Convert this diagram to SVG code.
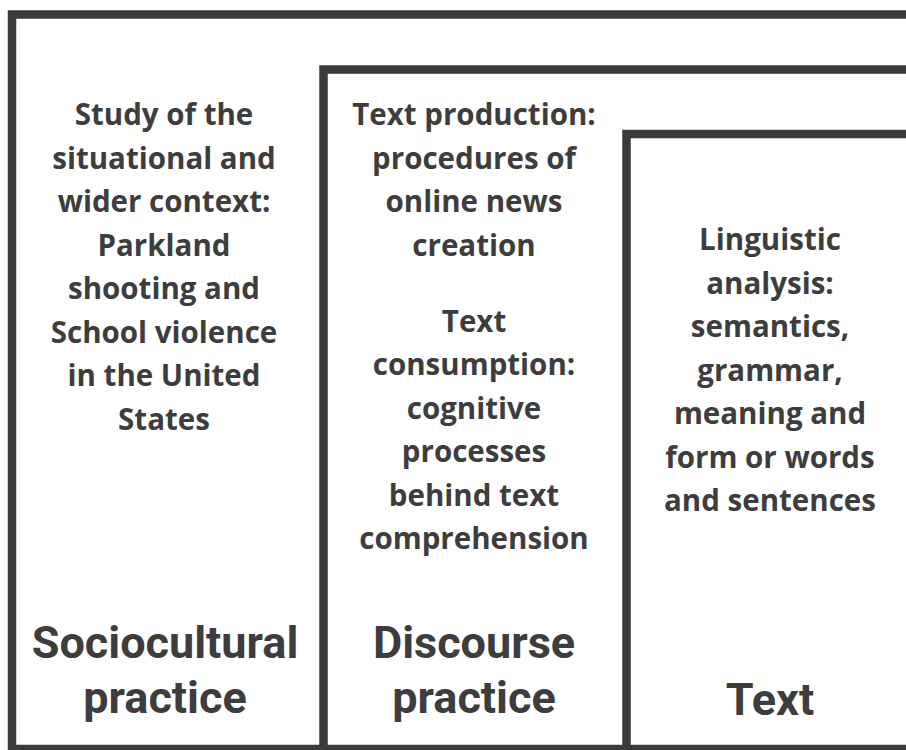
<svg xmlns="http://www.w3.org/2000/svg" width="906" height="750" viewBox="0 0 906 750">
<style>
.box{fill:#ffffff;stroke:#3b3b3b;stroke-width:8.5}
.body{font-family:"Open Sans","Liberation Sans",sans-serif;font-weight:700;font-size:29.5px;fill:#3d3d3d;text-anchor:middle}
.head{font-family:Roboto,"Liberation Sans",sans-serif;font-weight:700;font-size:45px;fill:#3d3d3d;text-anchor:middle}
</style>
<rect x="0" y="0" width="906" height="750" fill="#ffffff"/>
<g id="sociocultural">
<rect class="box" x="12" y="14.5" width="1000" height="734.5"/>
<text class="body"><tspan x="164" y="125">Study of the</tspan><tspan x="164" y="168.5">situational and</tspan><tspan x="164" y="212">wider context:</tspan><tspan x="164" y="255.5">Parkland</tspan><tspan x="164" y="299">shooting and</tspan><tspan x="164" y="342.5">School violence</tspan><tspan x="164" y="386">in the United</tspan><tspan x="164" y="429.5">States</tspan></text>
<text class="head"><tspan x="165" y="658">Sociocultural</tspan><tspan x="165" y="713">practice</tspan></text>
</g>
<g id="discourse">
<rect class="box" x="323.5" y="69.5" width="700" height="679.5"/>
<text class="body"><tspan x="474" y="125">Text production:</tspan><tspan x="474" y="168.5">procedures of</tspan><tspan x="474" y="212">online news</tspan><tspan x="474" y="255.5">creation</tspan></text>
<text class="body"><tspan x="474" y="331.5">Text</tspan><tspan x="474" y="375">consumption:</tspan><tspan x="474" y="418.5">cognitive</tspan><tspan x="474" y="462">processes</tspan><tspan x="474" y="505.5">behind text</tspan><tspan x="474" y="549">comprehension</tspan></text>
<text class="head"><tspan x="474" y="658">Discourse</tspan><tspan x="474" y="713">practice</tspan></text>
</g>
<g id="text">
<rect class="box" x="626.5" y="134" width="400" height="615"/>
<text class="body"><tspan x="770" y="250">Linguistic</tspan><tspan x="770" y="293.5">analysis:</tspan><tspan x="770" y="337">semantics,</tspan><tspan x="770" y="380.5">grammar,</tspan><tspan x="770" y="424">meaning and</tspan><tspan x="770" y="467.5">form or words</tspan><tspan x="770" y="511">and sentences</tspan></text>
<text class="head"><tspan x="770" y="715">Text</tspan></text>
</g>
<g id="connectors"/>
</svg>
